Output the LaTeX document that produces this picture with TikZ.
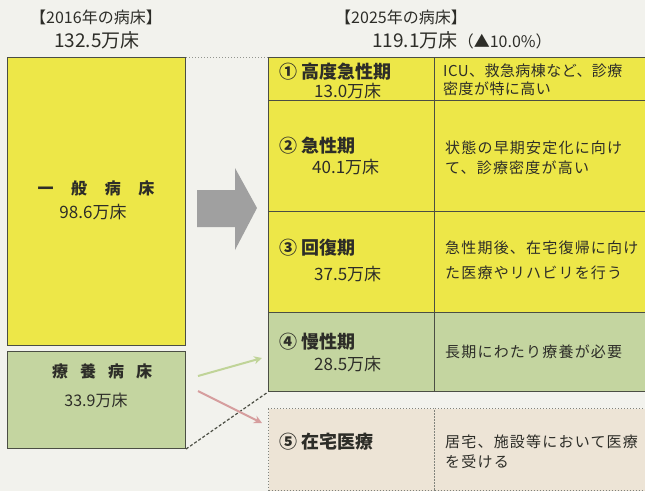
\documentclass[tikz,border=0pt]{standalone}
\usepackage{fontspec}
\setmainfont{Noto Sans CJK JP}
\usetikzlibrary{arrows.meta}
\definecolor{bgc}{RGB}{242,242,237}
\definecolor{ylw}{RGB}{237,231,72}
\definecolor{grn}{RGB}{196,213,160}
\definecolor{bge}{RGB}{237,228,214}
\definecolor{edge}{RGB}{75,78,68}
\definecolor{txt}{RGB}{45,45,40}
\definecolor{arrgray}{RGB}{160,160,160}
\definecolor{arrgrn}{RGB}{192,212,152}
\definecolor{arrpink}{RGB}{214,158,158}
\tikzset{
  cell/.style={draw=edge, line width=1pt, anchor=north west, inner sep=0pt, minimum width=#1},
  ycell/.style={cell=#1, fill=ylw},
  gcell/.style={cell=#1, fill=grn},
  bcell/.style={draw=edge!70, dotted, line width=1pt, fill=bge, anchor=north west, inner sep=0pt, minimum width=#1},
  lab/.style={anchor=west, inner sep=0pt, text=txt, font=\fontsize{18}{20}\selectfont\bfseries},
  num/.style={anchor=west, inner sep=0pt, text=txt, font=\fontsize{17}{19}\selectfont},
  desc/.style={anchor=west, inner sep=0pt, text=txt, font=\fontsize{15}{17}\selectfont\addfontfeature{LetterSpace=8}},
  descA/.style={anchor=west, inner sep=0pt, text=txt, font=\fontsize{15}{17}\selectfont\addfontfeature{LetterSpace=3}},
  ttl/.style={inner sep=0pt, text=txt, font=\fontsize{16}{18}\selectfont},
  big/.style={inner sep=0pt, text=txt, font=\fontsize{17}{19}\selectfont},
  thinarr/.style={line width=2pt, -{Stealth[length=8pt,width=8pt]}},
}
\begin{document}
\begin{tikzpicture}[x=1pt,y=-1pt]
\fill[bgc] (0,0) rectangle (645,491);
\useasboundingbox (0,0) rectangle (645,491);

% titles
\node[ttl] (t1) at (96,17) {【2016年の病床】};
\node[big, font=\fontsize{19}{21}\selectfont] (t1b) at (97,40) {132.5万床};
\node[ttl] (t2) at (401,17) {【2025年の病床】};
\node[big, font=\fontsize{19}{21}\selectfont] (t2b) at (462,40) {119.1万床{\fontsize{16}{18}\selectfont（▲10.0\%）}};

% left boxes
\node[ycell=178pt, minimum height=288pt] (gen) at (7,57) {};
\node[gcell=178pt, minimum height=97pt] (ryo) at (7,351) {};
\node[big, font=\fontsize{16}{18}\selectfont\bfseries] (genA) at (96,188) {一\hspace{1.1em}般\hspace{1.1em}病\hspace{1.1em}床};
\node[big] (genB) at (93,212) {98.6万床};
\node[big, font=\fontsize{16}{18}\selectfont\bfseries] (ryoA) at (102,371) {療\hspace{0.75em}養\hspace{0.75em}病\hspace{0.75em}床};
\node[big, font=\fontsize{16}{18}\selectfont] (ryoB) at (96,400) {33.9万床};

% big gray arrow
\fill[arrgray] (197,190) -- (235,190) -- (235,168) -- (257,208) -- (235,250) -- (235,227) -- (197,227) -- cycle;

% right table
\node[ycell=166pt, minimum height=43pt] (r1l) at (268,57) {};
\node[ycell=216pt, minimum height=43pt] (r1r) at (434,57) {};
\node[ycell=166pt, minimum height=111pt] (r2l) at (268,100) {};
\node[ycell=216pt, minimum height=111pt] (r2r) at (434,100) {};
\node[ycell=166pt, minimum height=101pt] (r3l) at (268,211) {};
\node[ycell=216pt, minimum height=101pt] (r3r) at (434,211) {};
\node[gcell=166pt, minimum height=79pt] (r4l) at (268,312) {};
\node[gcell=216pt, minimum height=79pt] (r4r) at (434,312) {};
\node[bcell=166pt, minimum height=82pt] (r5l) at (268,408) {};
\node[bcell=216pt, minimum height=82pt] (r5r) at (434,408) {};

% row texts
\node[lab] (l1a) at (279,72) {① 高度急性期};
\node[num] (l1b) at (314,91) {13.0万床};
\node[descA] (d1a) at (443,71) {ICU、救急病棟など、診療};
\node[descA] (d1b) at (443,89) {密度が特に高い};

\node[lab] (l2a) at (279,146) {② 急性期};
\node[num] (l2b) at (312,167) {40.1万床};
\node[desc] (d2a) at (445,148) {状態の早期安定化に向け};
\node[desc] (d2b) at (445,168) {て、診療密度が高い};

\node[lab] (l3a) at (279,248) {③ 回復期};
\node[num] (l3b) at (314,274) {37.5万床};
\node[desc] (d3a) at (445,248) {急性期後、在宅復帰に向け};
\node[desc] (d3b) at (445,273) {た医療やリハビリを行う};

\node[lab] (l4a) at (279,342) {④ 慢性期};
\node[num] (l4b) at (314,364) {28.5万床};
\node[desc] (d4a) at (445,352) {長期にわたり療養が必要};

\node[lab] (l5a) at (279,442) {⑤ 在宅医療};
\node[desc] (d5a) at (445,442) {居宅、施設等において医療};
\node[desc] (d5b) at (445,462) {を受ける};

% connectors
\draw[edge!60, dotted, line width=1pt] (gen.north east) -- (r1l.north west);
\draw[edge, dashed, dash pattern=on 3pt off 2pt, line width=1.2pt] (ryo.south east) -- (r4l.south west);
\coordinate (ga) at (198,376);
\coordinate (gb) at (262,358);
\coordinate (pa) at (198,391);
\coordinate (pb) at (262,423);
\draw[thinarr, arrgrn] (ga) -- (gb);
\draw[thinarr, arrpink] (pa) -- (pb);
\end{tikzpicture}
\end{document}
